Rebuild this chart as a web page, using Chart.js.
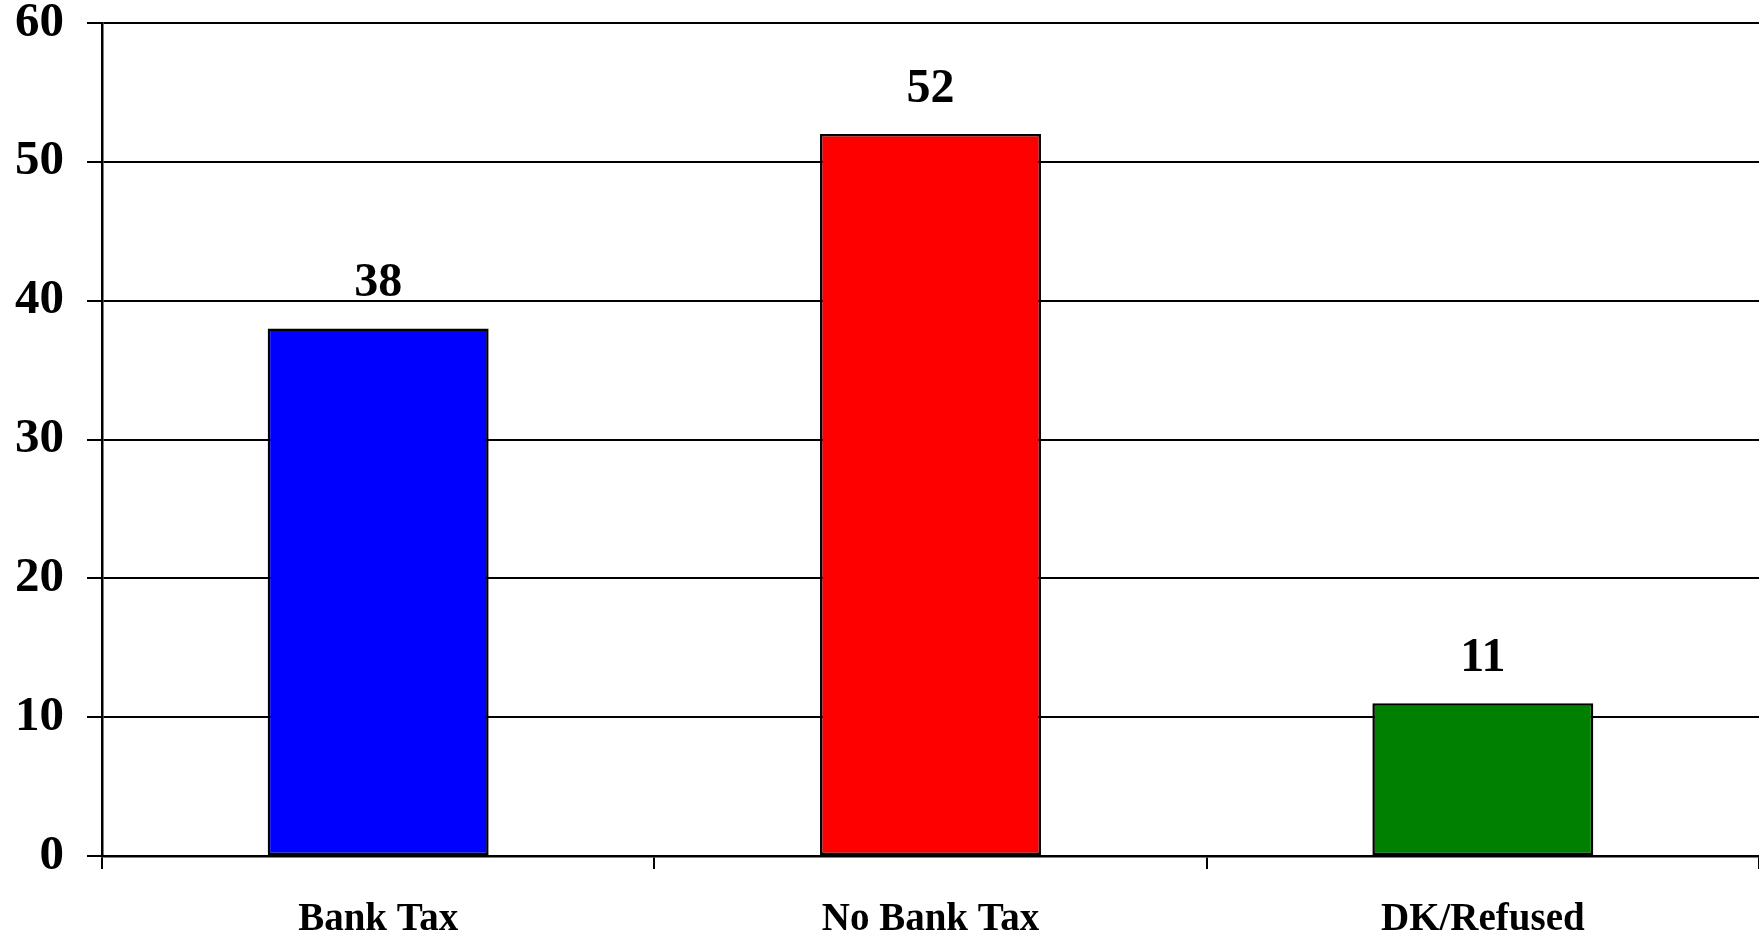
<!DOCTYPE html>
<html>
<head>
<meta charset="utf-8">
<script src="https://cdn.jsdelivr.net/npm/chart.js@4.4.0/dist/chart.umd.min.js"></script>
<style>
  html, body { margin: 0; padding: 0; background: #fff; }
  canvas { display: block; }
</style>
</head>
<body>
<canvas id="chart" width="1759" height="936"></canvas>
<script>
const categories = ['Bank Tax', 'No Bank Tax', 'DK/Refused'];
const values = [38, 52, 11];
const barColors = ['#0000ff', '#ff0000', '#008000'];
const yTicks = [0, 10, 20, 30, 40, 50, 60];

const FONT = '"Liberation Serif", "Times New Roman", serif';

// draws the value above each bar
const valueLabels = {
    id: 'valueLabels',
    afterDatasetsDraw(chart) {
        const ctx = chart.ctx;
        const meta = chart.getDatasetMeta(0);
        ctx.save();
        ctx.font = 'bold 48px ' + FONT;
        ctx.fillStyle = '#000';
        ctx.textAlign = 'center';
        ctx.textBaseline = 'alphabetic';
        meta.data.forEach((bar, i) => {
            ctx.fillText(String(values[i]), bar.x, bar.y - 32);
        });
        ctx.restore();
    }
};

new Chart(document.getElementById('chart'), {
    type: 'bar',
    data: {
        labels: categories,
        datasets: [{
            data: values,
            backgroundColor: barColors,
            borderColor: '#000',
            borderWidth: 2.5,
            borderSkipped: false,
            barPercentage: 0.4,
            categoryPercentage: 1
        }]
    },
    options: {
        responsive: false,
        animation: false,
        devicePixelRatio: 1,
        layout: { padding: { top: 23, right: 0, left: 0, bottom: 0 } },
        plugins: {
            legend: { display: false },
            tooltip: { enabled: false }
        },
        scales: {
            x: {
                offset: true,
                grid: {
                    offset: true,
                    drawOnChartArea: false,
                    drawTicks: true,
                    tickLength: 13,
                    color: '#000',
                    lineWidth: 2
                },
                border: { display: true, color: '#000', width: 2.5 },
                ticks: {
                    color: '#000',
                    padding: 31,
                    maxRotation: 0,
                    font: { family: FONT, size: 39, weight: 'bold', lineHeight: 1 }
                },
                afterFit(scale) { scale.height = 80; }
            },
            y: {
                min: 0,
                max: 60,
                afterBuildTicks(scale) {
                    scale.ticks = yTicks.map(v => ({ value: v }));
                },
                grid: {
                    color: '#000',
                    lineWidth: 2,
                    tickLength: 15,
                    drawTicks: true
                },
                border: { display: true, color: '#000', width: 2.5 },
                ticks: {
                    color: '#000',
                    padding: 23,
                    font: { family: FONT, size: 49, weight: 'bold', lineHeight: 0.9 }
                },
                afterFit(scale) {
                    scale.width = 102;
                    scale.paddingTop = 0;
                    scale.paddingBottom = 0;
                }
            }
        }
    },
    plugins: [valueLabels]
});
</script>
</body>
</html>
